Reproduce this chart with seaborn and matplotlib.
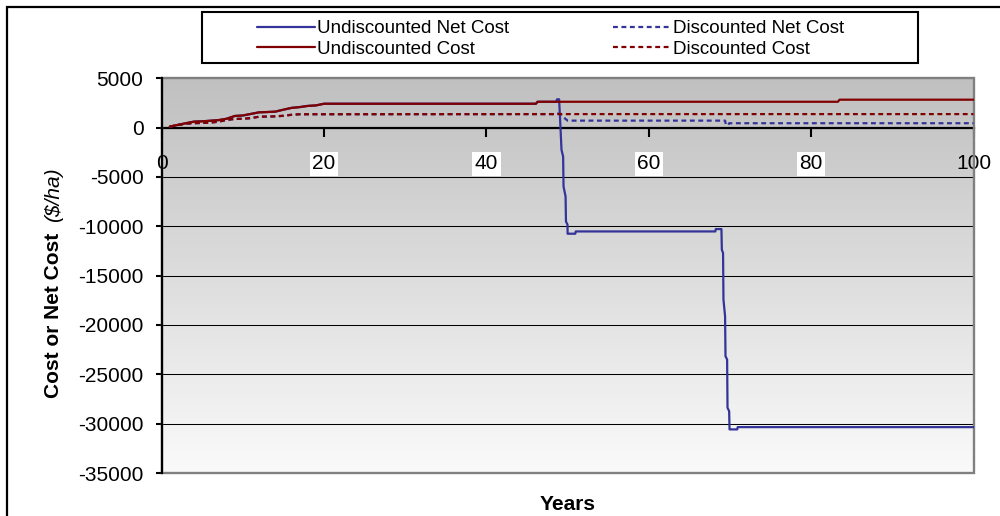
import numpy as np
import pandas as pd
import matplotlib
matplotlib.use("Agg")
import matplotlib.pyplot as plt
import seaborn as sns
from matplotlib.lines import Line2D
from matplotlib.patches import Rectangle
from matplotlib.colors import LinearSegmentedColormap

# ---- data -------------------------------------------------------------
undisc_cost_years = [1, 2, 3, 4, 5, 6, 7, 8, 9, 10, 11, 12, 13, 14, 15, 16, 17, 18, 19, 20,
                     46.1, 46.3, 83.3, 83.5, 100]
undisc_cost_vals = [100, 280, 450, 610, 640, 700, 760, 900, 1180, 1230, 1390, 1550, 1580, 1620,
                    1820, 2000, 2080, 2200, 2250, 2420, 2420, 2620, 2620, 2830, 2830]

disc_cost_years = [1, 2, 3, 4, 5, 6, 7, 8, 9, 10, 11, 12, 13, 14, 15, 16, 17, 46.3, 100]
disc_cost_vals = [100, 260, 400, 450, 470, 510, 600, 780, 880, 900, 960, 1110, 1120, 1140,
                  1200, 1300, 1355, 1370, 1370]

undisc_net_years = [1, 2, 3, 4, 5, 6, 7, 8, 9, 10, 11, 12, 13, 14, 15, 16, 17, 18, 19, 20,
                    46.1, 46.3, 48.6, 48.7, 48.95, 49.05, 49.25, 49.45, 49.5, 49.75, 49.8,
                    49.99, 50.0, 50.95, 51.0, 68.2, 68.25, 68.95, 69.0, 69.15, 69.2, 69.4,
                    69.45, 69.65, 69.7, 69.9, 69.95, 70.9, 70.95, 100]
undisc_net_vals = [100, 280, 450, 610, 640, 700, 760, 900, 1180, 1230, 1390, 1550, 1580, 1620,
                   1820, 2000, 2080, 2200, 2250, 2420, 2420, 2620, 2620, 2870, 2870, 1290,
                   -2260, -2930, -5970, -6980, -9510, -9840, -10750, -10750, -10520, -10520,
                   -10280, -10280, -12370, -12710, -17430, -19120, -23160, -23500, -28390,
                   -28730, -30580, -30580, -30350, -30350]

disc_net_years = [1, 2, 3, 4, 5, 6, 7, 8, 9, 10, 11, 12, 13, 14, 15, 16, 17, 46.3, 48.6,
                  48.7, 48.95, 50.0, 69.4, 69.5, 69.8, 69.9, 100]
disc_net_vals = [100, 260, 400, 450, 470, 510, 600, 780, 880, 900, 960, 1110, 1120, 1140,
                 1200, 1300, 1355, 1370, 1370, 1420, 1420, 708, 708, 273, 273, 445, 445]

series_names = ["Undiscounted Net Cost", "Discounted Net Cost",
                "Undiscounted Cost", "Discounted Cost"]
x_ticks = [0, 20, 40, 60, 80, 100]
x_tick_labels = ["0", "20", "40", "60", "80", "100"]
y_ticks = [-35000, -30000, -25000, -20000, -15000, -10000, -5000, 0, 5000]
y_tick_labels = ["-35000", "-30000", "-25000", "-20000", "-15000", "-10000", "-5000", "0", "5000"]

# ---- long-form table ---------------------------------------------------
frames = []
for name, yrs, vals in zip(series_names,
                           [undisc_net_years, disc_net_years, undisc_cost_years, disc_cost_years],
                           [undisc_net_vals, disc_net_vals, undisc_cost_vals, disc_cost_vals]):
    frames.append(pd.DataFrame({"year": yrs, "value": vals, "series": name}))
df = pd.concat(frames, ignore_index=True)

BLUE = "#333399"
RED = "#800000"
palette = {series_names[0]: BLUE, series_names[1]: BLUE,
           series_names[2]: RED, series_names[3]: RED}
dash_pat = (2.2, 1.6)
dashes = {series_names[0]: "", series_names[1]: dash_pat,
          series_names[2]: "", series_names[3]: dash_pat}

# ---- style -------------------------------------------------------------
sns.set_style("white")
plt.rcParams["font.family"] = ["Liberation Sans", "DejaVu Sans"]
plt.rcParams["axes.unicode_minus"] = False
plt.rcParams["text.color"] = "black"
plt.rcParams["axes.labelcolor"] = "black"
plt.rcParams["xtick.color"] = "black"
plt.rcParams["ytick.color"] = "black"

fig = plt.figure(figsize=(10, 5.16), dpi=100)
ax = fig.add_axes([0.1617, 0.0833, 0.8118, 0.765])

# vertical grey-to-white fill of the plot area
grad = np.linspace(0, 1, 256).reshape(-1, 1)
bg_cmap = LinearSegmentedColormap.from_list("bg", ["#fafafa", "#c0c0c0"])
ax.imshow(grad, extent=[0, 1, 0, 1], transform=ax.transAxes, origin="lower",
          cmap=bg_cmap, aspect="auto", zorder=0, interpolation="bilinear")

sns.lineplot(data=df, x="year", y="value", hue="series", style="series",
             hue_order=series_names, style_order=series_names,
             palette=palette, dashes=dashes, estimator=None, sort=False,
             legend=False, lw=1.6, ax=ax, zorder=3)

ax.set_xlim(0, 100)
ax.set_ylim(-35000, 5000)
ax.set_xticks(x_ticks, labels=x_tick_labels)
ax.set_yticks(y_ticks, labels=y_tick_labels)
ax.set_xlabel("")
ax.set_ylabel("")

ax.grid(axis="y", color="black", lw=0.75)
ax.grid(axis="x", visible=False)

# plot-area border and axes
ax.add_patch(Rectangle((0, 0), 1, 1, transform=ax.transAxes, fill=False,
                       ec="#808080", lw=1.7, zorder=2.6, clip_on=False))
ax.spines["top"].set_visible(False)
ax.spines["right"].set_visible(False)
ax.spines["bottom"].set_position(("data", 0))
ax.spines["bottom"].set_color("black")
ax.spines["bottom"].set_linewidth(1.6)
ax.spines["left"].set_color("black")
ax.spines["left"].set_linewidth(1.6)
ax.spines["left"].set_zorder(2.7)

ax.tick_params(axis="y", direction="out", length=4.5, width=1.5, pad=8.6,
               labelsize=15, left=True, colors="black")
ax.tick_params(axis="x", direction="out", length=6.5, width=1.5, pad=12.5,
               labelsize=15, bottom=True, colors="black")
for lbl in ax.get_xticklabels():
    if lbl.get_text() in ("20", "40", "60", "80"):
        lbl.set_bbox(dict(facecolor="white", edgecolor="none", pad=0.12, boxstyle="square"))

# axis titles
t1 = fig.text(0.054, 1 - 398 / 516, "Cost or Net Cost", rotation=90, ha="center",
              va="bottom", fontsize=15, fontweight="bold")
ax.annotate("($/ha)", xy=(0.5, 1), xycoords=t1, xytext=(0, 8), textcoords="offset points",
            rotation=90, ha="center", va="bottom", fontsize=15, fontstyle="italic")
fig.text(0.5675, 1 - 505 / 516, "Years", ha="center", va="center",
         fontsize=15, fontweight="bold")

# legend: two rows, net cost on top, cost below (filled column by column)
legend_order = [series_names[0], series_names[2], series_names[1], series_names[3]]
handles = [Line2D([], [], color=palette[n], lw=1.6,
                  linestyle="-" if dashes[n] == "" else (0, dash_pat)) for n in legend_order]
fig.legend(handles, legend_order, ncol=2, loc="upper left",
           bbox_to_anchor=(0.2567, 1 - 20.0 / 516), frameon=False, fontsize=13.5,
           handlelength=3.1, handletextpad=0.1, columnspacing=5.55, borderpad=0,
           borderaxespad=0, labelspacing=0.18)
fig.add_artist(Rectangle((0.202, 1 - 63 / 516), 0.716, 51 / 516, transform=fig.transFigure,
                         fill=False, ec="black", lw=1.5))

# outer chart frame
fig.add_artist(Rectangle((0.007, -0.1), 1.2, 1.1 - 7 / 516, transform=fig.transFigure,
                         fill=False, ec="black", lw=1.6))

fig.savefig("out.png", dpi=100)
